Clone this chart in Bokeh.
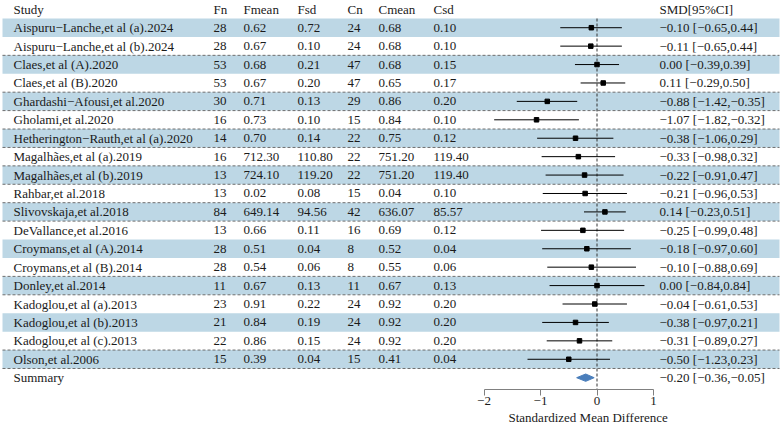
from bokeh.plotting import figure
from bokeh.models import Range1d, LinearAxis, FixedTicker, Title, ColumnDataSource
from bokeh.core.properties import value
from bokeh.embed import file_html
from bokeh.resources import INLINE

# ---------------- data ----------------
studies = [
    "Aispuru−Lanche,et al (a).2024", "Aispuru−Lanche,et al (b).2024",
    "Claes,et al (A).2020", "Claes,et al (B).2020",
    "Ghardashi−Afousi,et al.2020", "Gholami,et al.2020",
    "Hetherington−Rauth,et al (a).2020", "Magalhães,et al (a).2019",
    "Magalhães,et al (b).2019", "Rahbar,et al.2018",
    "Slivovskaja,et al.2018", "DeVallance,et al.2016",
    "Croymans,et al (A).2014", "Croymans,et al (B).2014",
    "Donley,et al.2014", "Kadoglou,et al (a).2013",
    "Kadoglou,et al (b).2013", "Kadoglou,et al (c).2013",
    "Olson,et al.2006",
]
fn = ["28", "28", "53", "53", "30", "16", "14", "16", "13", "13", "84", "13", "28", "28", "11", "23", "21", "22", "15"]
fmean = ["0.62", "0.67", "0.68", "0.67", "0.71", "0.73", "0.70", "712.30", "724.10", "0.02", "649.14", "0.66", "0.51", "0.54", "0.67", "0.91", "0.84", "0.86", "0.39"]
fsd = ["0.72", "0.10", "0.21", "0.20", "0.13", "0.10", "0.14", "110.80", "119.20", "0.08", "94.56", "0.11", "0.04", "0.06", "0.13", "0.22", "0.19", "0.15", "0.04"]
cn = ["24", "24", "47", "47", "29", "15", "22", "22", "22", "15", "42", "16", "8", "8", "11", "24", "24", "24", "15"]
cmean = ["0.68", "0.68", "0.68", "0.65", "0.86", "0.84", "0.75", "751.20", "751.20", "0.04", "636.07", "0.69", "0.52", "0.55", "0.67", "0.92", "0.92", "0.92", "0.41"]
csd = ["0.10", "0.10", "0.15", "0.17", "0.20", "0.10", "0.12", "119.40", "119.40", "0.10", "85.57", "0.12", "0.04", "0.06", "0.13", "0.20", "0.20", "0.20", "0.04"]
smd = [-0.10, -0.11, 0.00, 0.11, -0.88, -1.07, -0.38, -0.33, -0.22, -0.21, 0.14, -0.25, -0.18, -0.10, 0.00, -0.04, -0.38, -0.31, -0.50]
lo = [-0.65, -0.65, -0.39, -0.29, -1.42, -1.82, -1.06, -0.98, -0.91, -0.96, -0.23, -0.99, -0.97, -0.88, -0.84, -0.61, -0.97, -0.89, -1.23]
hi = [0.44, 0.44, 0.39, 0.50, -0.35, -0.32, 0.29, 0.32, 0.47, 0.53, 0.51, 0.48, 0.60, 0.69, 0.84, 0.53, 0.21, 0.27, 0.23]
summary_label = "Summary"
summary_est, summary_lo, summary_hi = -0.20, -0.36, -0.05
headers = ["Study", "Fn", "Fmean", "Fsd", "Cn", "Cmean", "Csd", "SMD[95%CI]"]
x_ticks = [-2, -1, 0, 1]
x_tick_labels = ["−2", "−1", "0", "1"]
x_title = "Standardized Mean Difference"
null_value = 0
dash_after_rows = [2, 4, 5, 6, 7, 8, 9, 10, 11, 14, 15, 18, 19]

# ---------------- layout / style ----------------
W, H = 781, 426
FRAME_H = 389
ROW_TOP_PX = 18.0
ROW_H = 18.42
X_M2_PX, X_P1_PX = 483.5, 653.0
col_x = [13, 213, 243, 297, 347, 378, 433, 659]
FONT = "Liberation Serif"
FS = "13px"
TXT = "#1a1a1a"
SHADE = "#BDD7E5"
DIAMOND = "#4A7EBB"
TITLE_LEFT_PX = 508

scale = (X_P1_PX - X_M2_PX) / (x_ticks[-1] - x_ticks[0])
xlo = x_ticks[0] - X_M2_PX / scale
xhi = x_ticks[-1] + (W - X_P1_PX) / scale
y_top = 0.5 - ROW_TOP_PX / ROW_H
y_bot = 0.5 + (FRAME_H - ROW_TOP_PX) / ROW_H

def fmt(v):
    return f"{v:.2f}".replace("-", "−")

n = len(studies)
rows = list(range(1, n + 1))
sum_row = n + 1

p = figure(width=W, height=H, x_range=Range1d(xlo, xhi), y_range=Range1d(y_bot, y_top),
           output_backend="svg", toolbar_location=None,
           x_axis_type=None, y_axis_type=None,
           min_border_left=0, min_border_right=0, min_border_top=0,
           min_border_bottom=H - FRAME_H)
p.extra_x_ranges = {"px": Range1d(0, W)}
p.outline_line_color = None
p.xgrid.visible = False
p.ygrid.visible = False
p.background_fill_color = "white"
p.border_fill_color = "white"

# shading bands
shade_rows = [r for r in rows if r % 2 == 1]
p.quad(left=2, right=779, top=[r - 0.5 for r in shade_rows], bottom=[r + 0.5 for r in shade_rows],
       x_range_name="px", fill_color=SHADE, line_color=None)

# dashed separators
p.segment(x0=2, x1=779, y0=[r + 0.5 for r in dash_after_rows], y1=[r + 0.5 for r in dash_after_rows],
          x_range_name="px", line_color="#6e6e6e", line_width=1, line_dash="3 2")

# null line
p.segment(x0=[null_value], x1=[null_value], y0=[0.5], y1=[y_bot],
          line_color="#333333", line_width=1, line_dash="3 2")

# header + table text
cols = [studies, fn, fmean, fsd, cn, cmean, csd,
        [f"{fmt(e)} [{fmt(a)},{fmt(b)}]" for e, a, b in zip(smd, lo, hi)]]
for ci, (hx, head) in enumerate(zip(col_x, headers)):
    txts = [head] + list(cols[ci])
    ys = [0] + rows
    if ci == 0:
        txts.append(summary_label); ys.append(sum_row)
    if ci == len(headers) - 1:
        txts.append(f"{fmt(summary_est)} [{fmt(summary_lo)},{fmt(summary_hi)}]"); ys.append(sum_row)
    p.text(x=hx, y=ys, text=txts, x_range_name="px", text_font=value(FONT),
           text_font_size=FS, text_color=TXT, text_align="left", text_baseline="middle")

# CIs and points
src = ColumnDataSource(dict(y=rows, smd=smd, lo=lo, hi=hi))
p.segment(x0="lo", x1="hi", y0="y", y1="y", source=src, line_color="black", line_width=1)
p.scatter(x="smd", y="y", source=src, marker="square", size=4.5, fill_color="black", line_color="black")

# summary diamond
dh = 0.2
p.patch(x=[summary_lo, summary_est, summary_hi, summary_est],
        y=[sum_row, sum_row - dh, sum_row, sum_row + dh],
        fill_color=DIAMOND, line_color=DIAMOND)

# x axis
ax = LinearAxis(ticker=FixedTicker(ticks=x_ticks), bounds=(x_ticks[0], x_ticks[-1]),
                major_label_overrides={t: l for t, l in zip(x_ticks, x_tick_labels)})
ax.minor_tick_line_color = None
ax.major_tick_in = 0
ax.major_tick_out = 6
ax.axis_line_color = "#808080"
ax.major_tick_line_color = "#808080"
ax.major_label_text_font = FONT
ax.major_label_text_font_size = FS
ax.major_label_text_color = TXT
ax.major_label_standoff = 1
p.add_layout(ax, "below")

p.add_layout(Title(text=x_title, align="left", offset=TITLE_LEFT_PX,
                   text_font=FONT, text_font_size=FS, text_font_style="normal",
                   text_color=TXT, standoff=0), "below")

open("out.html", "w").write(file_html(p, INLINE))
